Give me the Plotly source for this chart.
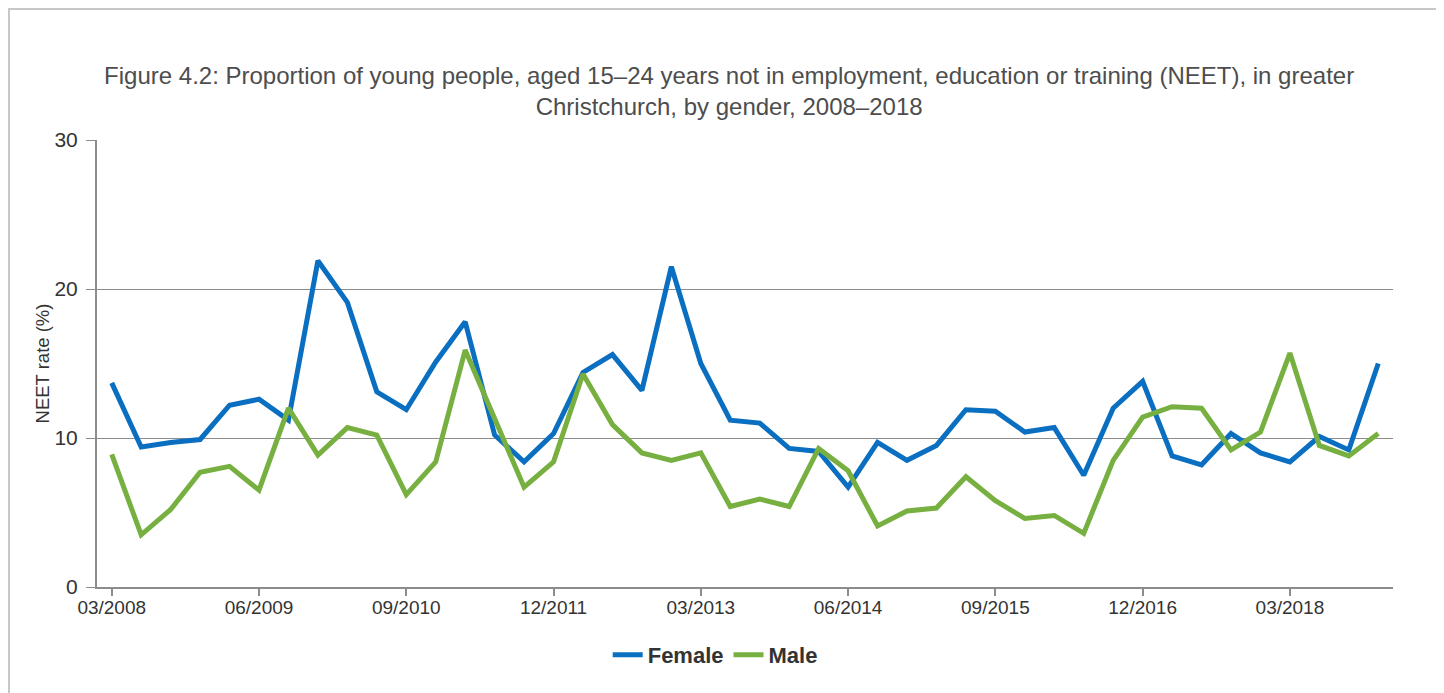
import plotly.graph_objects as go

quarters = [
    "03/2008", "06/2008", "09/2008", "12/2008",
    "03/2009", "06/2009", "09/2009", "12/2009",
    "03/2010", "06/2010", "09/2010", "12/2010",
    "03/2011", "06/2011", "09/2011", "12/2011",
    "03/2012", "06/2012", "09/2012", "12/2012",
    "03/2013", "06/2013", "09/2013", "12/2013",
    "03/2014", "06/2014", "09/2014", "12/2014",
    "03/2015", "06/2015", "09/2015", "12/2015",
    "03/2016", "06/2016", "09/2016", "12/2016",
    "03/2017", "06/2017", "09/2017", "12/2017",
    "03/2018", "06/2018", "09/2018", "12/2018",
]

female = [
    13.7, 9.4, 9.7, 9.9, 12.2, 12.6, 11.2, 21.9, 19.1, 13.1,
    11.9, 15.1, 17.8, 10.2, 8.4, 10.3, 14.4, 15.6, 13.2, 21.5,
    15.0, 11.2, 11.0, 9.3, 9.1, 6.7, 9.7, 8.5, 9.5, 11.9,
    11.8, 10.4, 10.7, 7.5, 12.0, 13.8, 8.8, 8.2, 10.3, 9.0,
    8.4, 10.1, 9.2, 15.0,
]

male = [
    8.9, 3.5, 5.2, 7.7, 8.1, 6.5, 12.0, 8.85, 10.7, 10.2,
    6.2, 8.4, 15.9, 11.2, 6.7, 8.4, 14.3, 10.9, 9.0, 8.5,
    9.0, 5.4, 5.9, 5.4, 9.3, 7.8, 4.1, 5.1, 5.3, 7.4,
    5.8, 4.6, 4.8, 3.6, 8.5, 11.4, 12.1, 12.0, 9.2, 10.4,
    15.7, 9.5, 8.8, 10.3,
]

tick_labels = ["03/2008", "06/2009", "09/2010", "12/2011", "03/2013",
               "06/2014", "09/2015", "12/2016", "03/2018"]
y_ticks = [0, 10, 20, 30]

title_text = ("Figure 4.2: Proportion of young people, aged 15\u201324 years not in employment, "
              "education or training (NEET), in greater<br>Christchurch, by gender, 2008\u20132018")

FONT = "Liberation Sans, Arial, sans-serif"
GRID = "#8c8c8c"

fig = go.Figure()
fig.add_trace(go.Scatter(x=quarters, y=female, name="Female", mode="lines",
                         line=dict(color="#0b6fc1", width=5)))
fig.add_trace(go.Scatter(x=quarters, y=male, name="Male", mode="lines",
                         line=dict(color="#77b041", width=5)))

fig.update_layout(
    width=1428, height=693,
    margin=dict(l=89, r=43, t=132, b=114),
    paper_bgcolor="white", plot_bgcolor="white",
    font=dict(family=FONT, color="#333333"),
    title=dict(text=title_text, x=0.505, xanchor="center", xref="container",
               y=1 - 76 / 693, yanchor="top", yref="container",
               font=dict(size=24, color="#4d4d4d", family=FONT)),
    showlegend=True,
    legend=dict(orientation="h", x=0.477, xanchor="center", y=-0.152, yanchor="middle",
                font=dict(size=22, color="#333333", family=FONT, weight="bold"),
                bgcolor="rgba(0,0,0,0)"),
    xaxis=dict(type="category", range=[-0.5, len(quarters) - 0.5],
               tickmode="array", tickvals=tick_labels, ticktext=tick_labels,
               ticks="outside", ticklen=7, tickcolor=GRID, tickwidth=2,
               ticklabelstandoff=-5,
               showgrid=False, showline=True, linecolor=GRID, linewidth=2,
               tickfont=dict(size=19, color="#333333", family=FONT),
               zeroline=False),
    yaxis=dict(range=[0, 30], tickmode="array", tickvals=y_ticks,
               ticks="outside", ticklen=9, tickcolor=GRID, tickwidth=1,
               ticklabelstandoff=4,
               showgrid=True, gridcolor=GRID, gridwidth=1,
               showline=True, linecolor=GRID, linewidth=2,
               tickfont=dict(size=21, color="#333333", family=FONT),
               zeroline=False),
    annotations=[dict(text="NEET rate (%)", x=-0.0417, y=0.5, xref="paper", yref="paper",
                      textangle=-90, showarrow=False, xanchor="center", yanchor="middle",
                      font=dict(size=18.5, color="#333333", family=FONT))],
    shapes=[dict(type="rect", xref="paper", yref="paper",
                 x0=-0.0679, x1=1.034, y0=-0.35, y1=1.293,
                 line=dict(color="#c8c8c8", width=2), layer="below")],
)

fig.write_html("out.html")
